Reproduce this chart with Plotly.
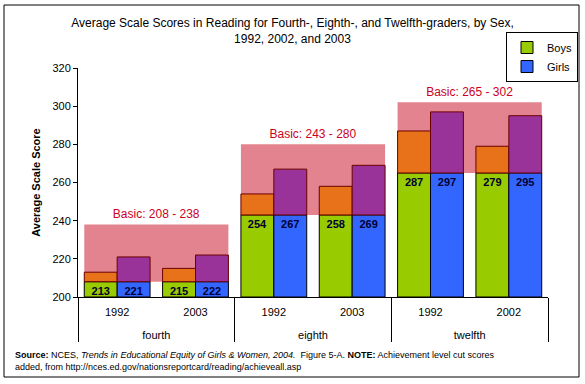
import plotly.graph_objects as go

# ---- data ----
grades = ["fourth", "fourth", "eighth", "eighth", "twelfth", "twelfth"]
years = ["1992", "2003", "1992", "2003", "1992", "2002"]
boys = [213, 215, 254, 258, 287, 279]
girls = [221, 222, 267, 269, 297, 295]

band_grades = ["fourth", "eighth", "twelfth"]
band_first_year = ["1992", "1992", "1992"]
basic_low = [208, 243, 265]
basic_high = [238, 280, 302]

Y_MIN, Y_MAX = 200, 320

low_by_grade = dict(zip(band_grades, basic_low))
lows = [low_by_grade[g] for g in grades]
# year tick labels get an empty second line so the grade row sits lower
year_ticks = [y + "<br> " for y in years]
band_ticks = [y + "<br> " for y in band_first_year]

FONT = "Liberation Sans, Arial, sans-serif"
GREEN = "#99CC00"
BLUE = "#3366FF"
BAR_W = 0.42

fig = go.Figure()

# Basic achievement band (behind the bars)
fig.add_trace(go.Bar(
    x=[band_grades, band_ticks],
    base=basic_low,
    y=[h - l for h, l in zip(basic_high, basic_low)],
    width=2 * BAR_W + 1.0, offset=-BAR_W,
    marker=dict(color="#E3838F", line=dict(width=0)),
    text=[f"Basic: {l} - {h}" for l, h in zip(basic_low, basic_high)],
    textposition="outside", textangle=0,
    textfont=dict(family=FONT, size=12, color="#CC0022"),
    cliponaxis=False, showlegend=False, hoverinfo="skip",
))

# lower parts of the bars (below basic cut)
fig.add_trace(go.Bar(
    name="Boys", x=[grades, year_ticks], base=Y_MIN,
    y=[l - Y_MIN for l in lows], width=BAR_W, offset=-BAR_W,
    marker=dict(color=GREEN, line=dict(color="black", width=1)),
    text=boys, textposition="inside", insidetextanchor="end", textangle=0,
    constraintext="none",
    textfont=dict(family=FONT, size=11, color="#000033", weight="bold"),
    legendgroup="b",
))
fig.add_trace(go.Bar(
    name="Girls", x=[grades, year_ticks], base=Y_MIN,
    y=[l - Y_MIN for l in lows], width=BAR_W, offset=0,
    marker=dict(color=BLUE, line=dict(color="black", width=1)),
    text=girls, textposition="inside", insidetextanchor="end", textangle=0,
    constraintext="none",
    textfont=dict(family=FONT, size=11, color="#000033", weight="bold"),
    legendgroup="g",
))

# upper parts of the bars (inside the basic band)
fig.add_trace(go.Bar(
    name="Boys", x=[grades, year_ticks], base=lows,
    y=[v - l for v, l in zip(boys, lows)], width=BAR_W, offset=-BAR_W,
    marker=dict(color="#E8721A", line=dict(color="#6A0000", width=1)),
    showlegend=False, legendgroup="b",
))
fig.add_trace(go.Bar(
    name="Girls", x=[grades, year_ticks], base=lows,
    y=[v - l for v, l in zip(girls, lows)], width=BAR_W, offset=0,
    marker=dict(color="#99339A", line=dict(color="#6A0000", width=1)),
    showlegend=False, legendgroup="g",
))

L, R, T, B = 78, 37, 68, 87
W, H = 585, 384
pw, ph = W - L - R, H - T - B

def px(xp):
    return (xp - L) / pw

def py(yp):
    return (H - B - yp) / ph

fig.update_layout(
    width=W, height=H,
    margin=dict(l=L, r=R, t=T, b=B, autoexpand=False),
    paper_bgcolor="white", plot_bgcolor="white",
    barmode="overlay",
    font=dict(family=FONT, size=11, color="black"),
    title=dict(
        text="Average Scale Scores in Reading for Fourth-, Eighth-, and Twelfth-graders, by Sex,<br>1992, 2002, and 2003",
        x=0.5, xref="container", xanchor="center",
        y=1 - 27 / H, yref="container", yanchor="top",
        font=dict(family=FONT, size=12, color="black"),
    ),
    xaxis=dict(
        showline=True, linecolor="black", linewidth=1,
        showdividers=True, dividercolor="black", dividerwidth=1,
        ticks="", showgrid=False, ticklabelstandoff=5,
        tickfont=dict(family=FONT, size=11, color="black"),
        automargin=False,
    ),
    yaxis=dict(
        range=[Y_MIN, Y_MAX], dtick=20, tick0=Y_MIN,
        ticks="outside", ticklen=4, tickcolor="black",
        showline=True, linecolor="black", linewidth=1,
        showgrid=False, zeroline=False, automargin=False,
        tickfont=dict(family=FONT, size=11, color="black"),
        title=dict(text="Average Scale Score",
                   font=dict(family=FONT, size=11, color="black", weight="bold"),
                   standoff=9),
    ),
    legend=dict(
        xref="container", yref="container",
        x=578 / W, y=1 - 32 / H, xanchor="right", yanchor="top",
        bordercolor="black", borderwidth=1, bgcolor="white",
        font=dict(family=FONT, size=11, color="black"),
        itemwidth=30, tracegroupgap=0,
    ),
    shapes=[dict(type="rect", xref="paper", yref="paper",
                 x0=px(4), x1=px(579), y0=py(377), y1=py(5),
                 line=dict(color="black", width=1), layer="above")],
    annotations=[dict(
        xref="paper", yref="paper", x=px(13), y=py(348),
        xanchor="left", yanchor="top", align="left", showarrow=False,
        font=dict(family=FONT, size=9, color="black"),
        text=("<b>Source:</b> NCES, <i>Trends in Educational Equity of Girls &amp; Women, 2004.</i>"
              "  Figure 5-A. <b>NOTE:</b> Achievement level cut scores<br>"
              "added, from http://nces.ed.gov/nationsreportcard/reading/achieveall.asp"),
    )],
)

fig.write_html("out.html", config={"displayModeBar": False},
               post_script="document.body.style.margin='0';")
